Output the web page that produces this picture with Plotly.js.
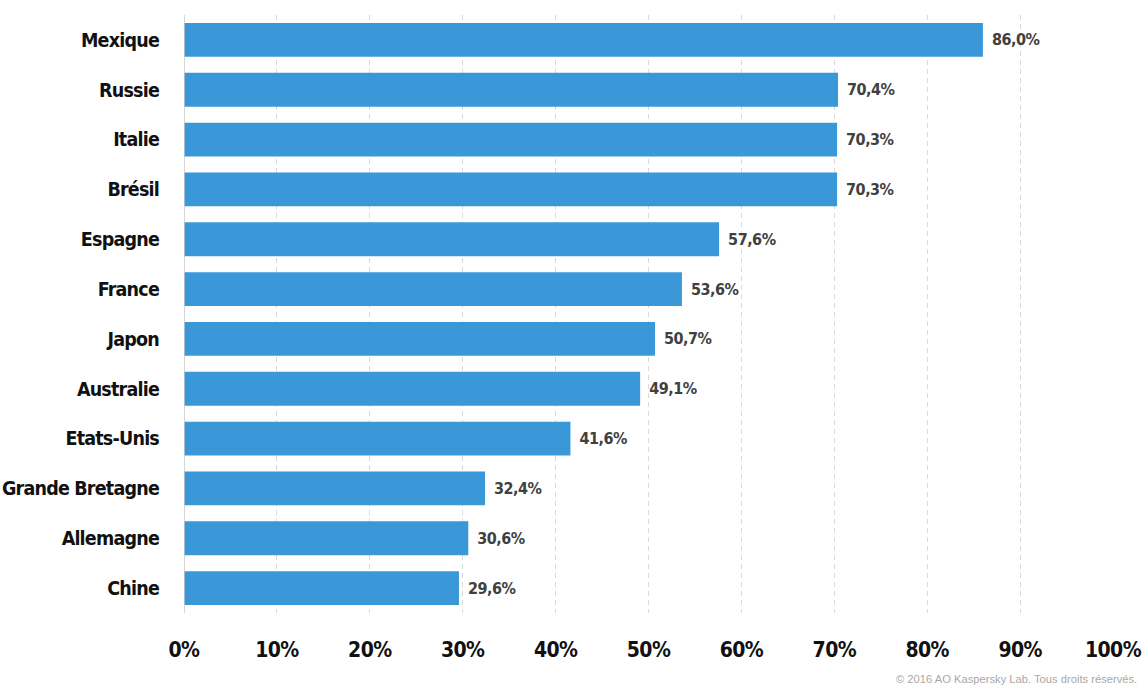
<!DOCTYPE html>
<html>
<head>
<meta charset="utf-8">
<script src="https://cdn.plot.ly/plotly-3.0.1.min.js"></script>
<style>
html,body{margin:0;padding:0;background:#fff;}
#chart{width:1148px;height:693px;}
#chart .ytick text{letter-spacing:-0.8px;}
#chart .xtick text{letter-spacing:-0.6px;}
#chart .bartext{letter-spacing:-0.5px;}
</style>
</head>
<body>
<div id="chart"></div>
<script>
const countries = ["Mexique","Russie","Italie","Brésil","Espagne","France","Japon","Australie","Etats-Unis","Grande Bretagne","Allemagne","Chine"];
const shares = [86.0,70.4,70.3,70.3,57.6,53.6,50.7,49.1,41.6,32.4,30.6,29.6];
const xTicks = [0,10,20,30,40,50,60,70,80,90,100];
const xTickLabels = xTicks.map(v => v + "%");

const FONT = "'DejaVu Sans Condensed', 'Liberation Sans Narrow', sans-serif";

const trace = {
  type: "bar",
  orientation: "h",
  y: countries,
  x: shares,
  marker: {color: "#3a98d8"},
  texttemplate: "\u00a0%{x:.1f}%",
  textposition: "outside",
  cliponaxis: false,
  textfont: {family: FONT, size: 16, color: "#404040", weight: "bold"},
  hoverinfo: "skip"
};

const layout = {
  width: 1148,
  height: 693,
  margin: {l: 184, r: 35, t: 15, b: 80},
  paper_bgcolor: "#fff",
  plot_bgcolor: "#fff",
  separators: ",.",
  bargap: 0.32,
  showlegend: false,
  xaxis: {
    range: [0, 100],
    tickvals: xTicks,
    ticktext: xTickLabels,
    showgrid: true,
    gridcolor: "#d9d9d9",
    griddash: "5px,4px",
    gridwidth: 1,
    zeroline: false,
    showline: false,
    ticks: "",
    ticklabelstandoff: 22,
    tickfont: {family: FONT, size: 21, color: "#111", weight: "bold"},
    fixedrange: true
  },
  yaxis: {
    autorange: "reversed",
    range: [11.5, -0.5],
    type: "category",
    showgrid: false,
    zeroline: false,
    showline: false,
    ticks: "",
    ticklabelstandoff: 24,
    tickfont: {family: FONT, size: 19.5, color: "#111", weight: "bold"},
    fixedrange: true
  },
  shapes: [{
    type: "line", xref: "x", yref: "paper",
    x0: 0, x1: 0, y0: 0, y1: 1,
    line: {color: "#c8c8c8", width: 1.5}
  }],
  annotations: [{
    text: "© 2016 AO Kaspersky Lab. Tous droits réservés.",
    xref: "paper", yref: "paper",
    x: 1.0, y: 0, xanchor: "right", yanchor: "top",
    xshift: 26, yshift: -58,
    showarrow: false,
    font: {family: "'Liberation Sans', Arial, sans-serif", size: 11.2, color: "#a8a8a8"}
  }]
};

Plotly.newPlot("chart", [trace], layout, {displayModeBar: false, staticPlot: true});
</script>
</body>
</html>
